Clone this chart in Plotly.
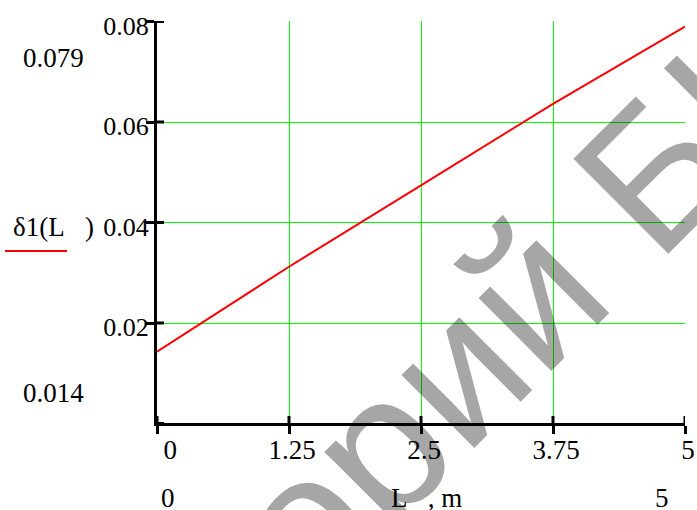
import plotly.graph_objects as go

# ---- data ----
L_vals = [0, 1.25, 2.5, 3.75, 5]
delta_vals = [0.0143, 0.0312, 0.0474, 0.0636, 0.079]
x_tickvals = [0, 1.25, 2.5, 3.75, 5]
x_ticktext = ["\u00a0\u00a0\u00a00", "1.25", "2.5", "3.75", "5"]
y_tickvals = [0, 0.02, 0.04, 0.06, 0.08]
y_ticktext = ["", "0.02", "0.04", "0.06", "0.08"]
y_max_label = "0.079"
y_min_label = "0.014"
x_min_label = "0"
x_max_label = "5"
x_title = "L\u00a0\u00a0\u00a0, m"
y_title = "δ1(L\u00a0\u00a0\u00a0)"
watermark = "Репозиторий БНТУ"

# ---- layout geometry ----
W, H = 697, 510
LM, RM, TM, BM = 157, 12, 21, 87
PW, PH = W - LM - RM, H - TM - BM
X_RANGE = [0, 5]
Y_RANGE = [0, 0.08]
yh = 0.5 * (Y_RANGE[1] - Y_RANGE[0]) / PH   # half-pixel grid alignment


def px(x):
    return (x - LM) / PW


def py(y):
    return (H - BM - y) / PH


SERIF = "Liberation Serif, Times New Roman, serif"
tfont = dict(family=SERIF, size=27, color="black")
yfont = dict(family=SERIF, size=26, color="black")

fig = go.Figure()
fig.add_trace(go.Scatter(x=L_vals, y=delta_vals, mode="lines",
                         line=dict(color="#ff0000", width=2),
                         showlegend=False, hoverinfo="skip"))

axis_common = dict(showline=True, linecolor="black", linewidth=3,
                   ticks="outside", ticklen=8, tickwidth=3, tickcolor="black",
                   showgrid=True, gridcolor="#00ff00", gridwidth=1,
                   zeroline=False, automargin=False)

fig.update_layout(
    width=W, height=H,
    margin=dict(l=LM, r=RM, t=TM, b=BM, pad=0, autoexpand=False),
    paper_bgcolor="white", plot_bgcolor="white",
    showlegend=False,
    xaxis=dict(range=X_RANGE, tickmode="array",
               tickvals=x_tickvals, ticktext=x_ticktext, tickfont=tfont,
               ticklabelshift=3, ticklabelstandoff=-7, **axis_common),
    yaxis=dict(range=[Y_RANGE[0] + yh, Y_RANGE[1] + yh], tickmode="array",
               tickvals=y_tickvals, ticktext=y_ticktext, tickfont=yfont,
               ticklabelstandoff=-8, ticklabelshift=4, **axis_common),
)

# inner halves of the crossing tick marks
for xv in x_tickvals:
    fig.add_shape(type="line", xref="x", yref="paper", ysizemode="pixel",
                  yanchor=0, x0=xv, x1=xv, y0=0, y1=7,
                  line=dict(color="black", width=3))
for yv in y_tickvals:
    fig.add_shape(type="line", yref="y", xref="paper", xsizemode="pixel",
                  xanchor=0, y0=yv, y1=yv, x0=0, x1=7,
                  line=dict(color="black", width=3))

ann = [
    dict(text=y_max_label, x=px(21), y=py(58), xanchor="left", yanchor="middle"),
    dict(text=y_min_label, x=px(21), y=py(393), xanchor="left", yanchor="middle"),
    dict(text=y_title, x=px(11), y=py(227), xanchor="left", yanchor="middle"),
    dict(text=x_min_label, x=px(168), y=py(498), xanchor="center", yanchor="middle"),
    dict(text=x_max_label, x=px(662), y=py(498), xanchor="center", yanchor="middle"),
    dict(text=x_title, x=px(389), y=py(498), xanchor="left", yanchor="middle"),
]
for a in ann:
    fig.add_annotation(xref="paper", yref="paper", showarrow=False, font=tfont, **a)

fig.add_shape(type="line", xref="paper", yref="paper",
              x0=px(5), x1=px(67), y0=py(251), y1=py(251),
              line=dict(color="#ff0000", width=2))

fig.add_annotation(xref="paper", yref="paper", showarrow=False,
                   text=watermark, x=px(360), y=py(466),
                   xanchor="center", yanchor="middle", textangle=-45,
                   font=dict(family="Liberation Sans, Arial, sans-serif",
                             size=195, color="rgba(0,0,0,0.35)"))

fig.write_html("out.html", config={"displayModeBar": False},
               post_script="document.body.style.margin='0';document.body.style.padding='0';")
